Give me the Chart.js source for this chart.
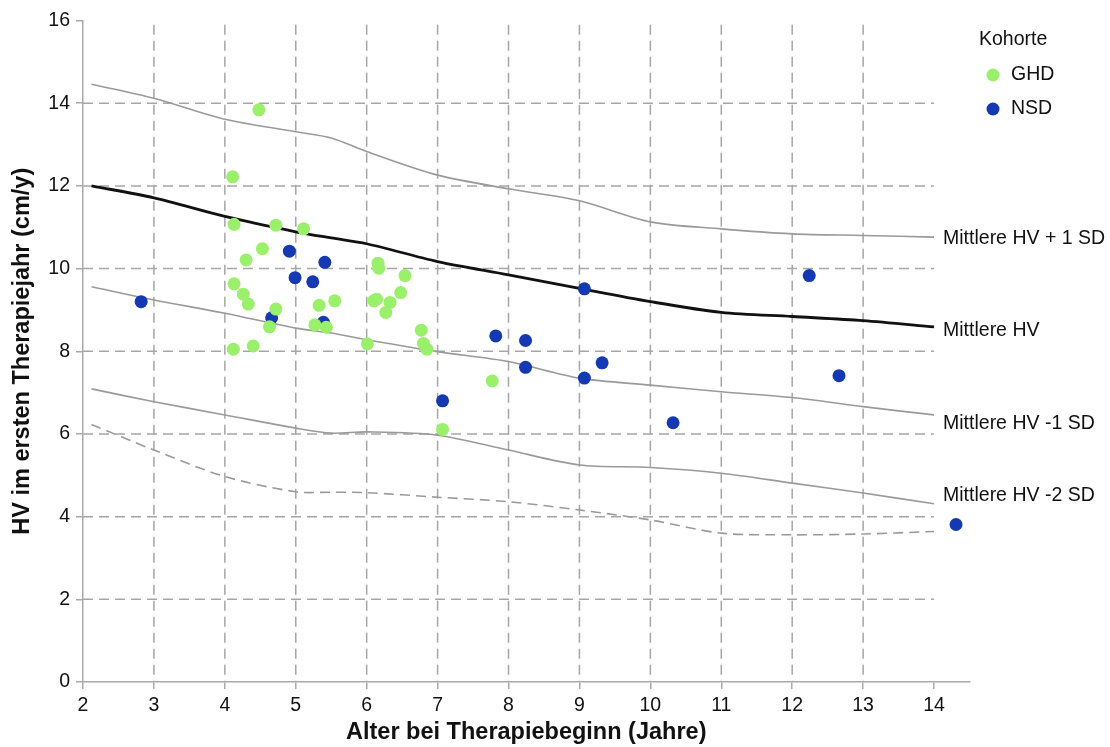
<!DOCTYPE html>
<html>
<head>
<meta charset="utf-8">
<script src="https://cdn.jsdelivr.net/npm/chart.js@4.4.1/dist/chart.umd.min.js"></script>
<style>
  html, body { margin: 0; padding: 0; background: #fff; }
  #wrap { width: 1110px; height: 747px; }
</style>
</head>
<body>
<div id="wrap"><canvas id="chart" width="1110" height="747"></canvas></div>
<script>
// Reference curves (age in years -> HV in cm/y)
const curveAges = [2.12, 3, 4, 5, 5.5, 6, 7, 8, 9, 10, 11, 12, 13, 14];
const plus1SD  = [14.46, 14.12, 13.61, 13.31, 13.16, 12.83, 12.26, 11.93, 11.64, 11.13, 10.96, 10.84, 10.80, 10.76];
const meanHV   = [12.00, 11.71, 11.26, 10.89, 10.74, 10.60, 10.17, 9.85, 9.52, 9.20, 8.94, 8.84, 8.74, 8.59];
const minus1SD = [9.56, 9.24, 8.92, 8.56, 8.44, 8.28, 7.99, 7.75, 7.35, 7.18, 7.02, 6.88, 6.66, 6.46];
const minus2SD = [7.09, 6.78, 6.46, 6.14, 6.02, 6.05, 5.97, 5.61, 5.25, 5.19, 5.05, 4.81, 4.57, 4.31];
const dashedCurve = [6.23, 5.61, 4.97, 4.60, 4.59, 4.58, 4.47, 4.36, 4.16, 3.92, 3.60, 3.56, 3.58, 3.64];
const curveLabels = ['Mittlere HV + 1 SD', 'Mittlere HV', 'Mittlere HV -1 SD', 'Mittlere HV -2 SD'];

// Patients: GHD cohort
const ghdAge = [4.48, 4.11, 4.13, 4.72, 5.11, 4.53, 4.30, 4.13, 4.26, 4.33, 4.72, 4.63, 5.33, 5.55, 5.27, 5.43,
                4.12, 4.40, 6.01, 6.16, 6.17, 6.10, 6.14, 6.54, 6.48, 6.33, 6.27, 6.77, 6.80, 6.85, 7.77, 7.07];
const ghdHV  = [13.84, 12.22, 11.07, 11.05, 10.96, 10.48, 10.21, 9.63, 9.38, 9.14, 9.02, 8.59, 9.11, 9.22, 8.64, 8.58,
                8.05, 8.13, 8.18, 10.13, 10.01, 9.22, 9.26, 9.83, 9.42, 9.18, 8.94, 8.51, 8.19, 8.05, 7.28, 6.11];

// Patients: NSD cohort
const nsdAge = [2.82, 4.91, 5.41, 4.99, 5.24, 4.66, 5.39, 7.82, 7.07, 9.07, 8.24, 8.24, 9.32, 9.07, 10.32, 12.24, 12.66, 14.31];
const nsdHV  = [9.20, 10.42, 10.15, 9.78, 9.68, 8.81, 8.70, 8.37, 6.80, 9.51, 8.26, 7.61, 7.72, 7.35, 6.27, 9.83, 7.41, 3.81];

const xTicks = [2, 3, 4, 5, 6, 7, 8, 9, 10, 11, 12, 13, 14];
const yTicks = [0, 2, 4, 6, 8, 10, 12, 14, 16];

const GREEN = '#9af06a';
const BLUE = '#1439b2';
const FONT = "'Liberation Sans', Arial, sans-serif";
const TEXT_SIZE = 19.5;

function pairs(xs, ys) {
  return xs.map((x, i) => ({ x: x, y: ys[i] }));
}

function curve(values, color, width, dash, order) {
  return {
    data: pairs(curveAges, values),
    showLine: true,
    borderColor: color,
    borderWidth: width,
    borderDash: dash,
    pointRadius: 0,
    pointHoverRadius: 0,
    fill: false,
    tension: 0.3,
    order: order
  };
}

// dashed grid, limited to the reference range
const gridPlugin = {
  id: 'dashGrid',
  beforeDatasetsDraw(chart) {
    const { ctx, scales: { x, y } } = chart;
    ctx.save();
    ctx.strokeStyle = '#a6a6a6';
    ctx.lineWidth = 1.5;
    ctx.setLineDash([10, 6]);
    xTicks.slice(1, -1).forEach(v => {
      const px = x.getPixelForValue(v);
      ctx.beginPath();
      ctx.moveTo(px, y.getPixelForValue(15.9));
      ctx.lineTo(px, y.getPixelForValue(0));
      ctx.stroke();
    });
    yTicks.slice(1, -1).forEach(v => {
      const py = y.getPixelForValue(v);
      ctx.beginPath();
      ctx.moveTo(x.getPixelForValue(2), py);
      ctx.lineTo(x.getPixelForValue(14), py);
      ctx.stroke();
    });
    ctx.restore();
  }
};

// curve names at the right end, plus the cohort legend
const labelPlugin = {
  id: 'sideLabels',
  afterDraw(chart) {
    const { ctx, scales: { x, y } } = chart;
    const last = curveAges.length - 1;
    const ends = [plus1SD[last], meanHV[last], minus1SD[last], minus2SD[last]];
    const nudge = [1, 4, 9, -8];
    const lx = x.getPixelForValue(curveAges[last]) + 9;
    ctx.save();
    ctx.fillStyle = '#111';
    ctx.font = TEXT_SIZE + 'px ' + FONT;
    ctx.textBaseline = 'middle';
    ctx.textAlign = 'left';
    curveLabels.forEach((txt, i) => {
      ctx.fillText(txt, lx, y.getPixelForValue(ends[i]) + nudge[i]);
    });

    ctx.fillText('Kohorte', 979, 40);
    [['GHD', GREEN], ['NSD', BLUE]].forEach(([name, col], i) => {
      const cy = 75 + i * 34;
      ctx.beginPath();
      ctx.fillStyle = col;
      ctx.arc(993, cy, 6.5, 0, Math.PI * 2);
      ctx.fill();
      ctx.fillStyle = '#111';
      ctx.fillText(name, 1011, cy);
    });
    ctx.restore();
  }
};

Chart.defaults.font.family = FONT;
Chart.defaults.color = '#111';

const ctx = document.getElementById('chart').getContext('2d');
new Chart(ctx, {
  type: 'scatter',
  data: {
    datasets: [
      {
        label: 'GHD',
        data: pairs(ghdAge, ghdHV),
        backgroundColor: GREEN,
        borderWidth: 0,
        pointRadius: 6.5,
        pointHoverRadius: 6.5,
        order: 1
      },
      {
        label: 'NSD',
        data: pairs(nsdAge, nsdHV),
        backgroundColor: BLUE,
        borderWidth: 0,
        pointRadius: 6.5,
        pointHoverRadius: 6.5,
        order: 2
      },
      curve(meanHV, '#111111', 2.8, [], 3),
      curve(plus1SD, '#9a9a9a', 1.6, [], 4),
      curve(minus1SD, '#9a9a9a', 1.6, [], 5),
      curve(minus2SD, '#9a9a9a', 1.6, [], 6),
      curve(dashedCurve, '#9a9a9a', 1.6, [10, 6], 7)
    ]
  },
  options: {
    responsive: false,
    animation: false,
    layout: { padding: { left: 0, top: 20.5, right: 140.5, bottom: 0 } },
    plugins: {
      legend: { display: false },
      tooltip: { enabled: false }
    },
    scales: {
      x: {
        type: 'linear',
        min: 2,
        max: 14.5,
        afterFit(scale) { scale.height = 65; },
        afterBuildTicks(scale) { scale.ticks = xTicks.map(v => ({ value: v })); },
        border: { color: '#aaaaaa', width: 1.5 },
        grid: { drawOnChartArea: false, drawTicks: true, tickLength: 7, color: '#aaaaaa', lineWidth: 1.5 },
        ticks: { font: { size: TEXT_SIZE }, padding: 5, color: '#111' },
        title: {
          display: true,
          text: 'Alter bei Therapiebeginn (Jahre)',
          font: { size: 23.5, weight: 'bold' },
          padding: { top: 0, bottom: 0 }
        }
      },
      y: {
        type: 'linear',
        min: 0,
        max: 16,
        afterFit(scale) { scale.width = 83; },
        afterBuildTicks(scale) { scale.ticks = yTicks.map(v => ({ value: v })); },
        border: { color: '#aaaaaa', width: 1.5 },
        grid: { drawOnChartArea: false, drawTicks: true, tickLength: 7, color: '#aaaaaa', lineWidth: 1.5 },
        ticks: { font: { size: TEXT_SIZE }, padding: 6, color: '#111' },
        title: {
          display: true,
          text: 'HV im ersten Therapiejahr (cm/y)',
          font: { size: 23.5, weight: 'bold' },
          padding: { top: 8, bottom: 0 }
        }
      }
    }
  },
  plugins: [gridPlugin, labelPlugin]
});
</script>
</body>
</html>
